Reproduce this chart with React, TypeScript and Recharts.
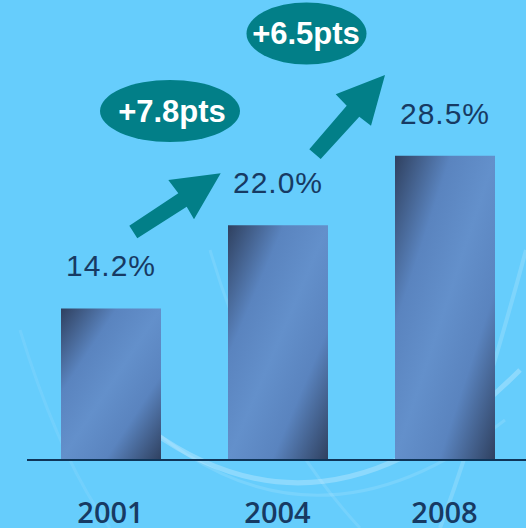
import React from 'react';
import { BarChart, Bar, XAxis, YAxis, LabelList } from 'recharts';

const years = ['2001', '2004', '2008'];
const shares = [14.2, 22.0, 28.5];
const gains = ['+7.8pts', '+6.5pts'];

const data = years.map((y, i) => ({ year: y, share: shares[i] }));

const TEAL = '#027f88';
const NAVY = '#173a63';

export default function App() {
  return (
    <div
      style={{
        position: 'absolute',
        left: 0,
        top: 0,
        width: 526,
        height: 528,
        overflow: 'hidden',
        background: '#66cdfc',
      }}
    >
      <svg width={526} height={528} style={{ position: 'absolute', left: 0, top: 0 }}>
        <path d="M 150 430 Q 330 560 520 370" fill="none" stroke="#ffffff" strokeOpacity={0.25} strokeWidth={5} />
        <path d="M 120 400 Q 300 580 505 420" fill="none" stroke="#ffffff" strokeOpacity={0.12} strokeWidth={3} />
        <path d="M 210 250 Q 260 420 360 528" fill="none" stroke="#ffffff" strokeOpacity={0.1} strokeWidth={3} />
        <path d="M 20 330 Q 60 460 110 528" fill="none" stroke="#ffffff" strokeOpacity={0.08} strokeWidth={3} />
        <path d="M 526 250 Q 480 420 440 528" fill="none" stroke="#ffffff" strokeOpacity={0.16} strokeWidth={4} />
      </svg>
      <BarChart
        width={528}
        height={528}
        data={data}
        margin={{ top: 33, right: 0, left: 27, bottom: 0 }}
        style={{ position: 'absolute', left: 0, top: 0 }}
      >
        <defs>
          <linearGradient id="barGrad" x1="0" y1="0" x2="1" y2="1">
            <stop offset="0" stopColor="#2f405f" />
            <stop offset="0.28" stopColor="#5a84bf" />
            <stop offset="0.5" stopColor="#6390cb" />
            <stop offset="0.72" stopColor="#5a84bf" />
            <stop offset="1" stopColor="#2f405f" />
          </linearGradient>
        </defs>
        <XAxis
          dataKey="year"
          height={68}
          tickSize={0}
          tickMargin={42}
          tickLine={false}
          axisLine={{ stroke: '#0f3558', strokeWidth: 2 }}
          tick={{ fill: NAVY, fontSize: 29, fontWeight: 600, fontFamily: 'Open Sans, Liberation Sans, sans-serif' }}
        />
        <YAxis hide domain={[0, 40]} />
        <Bar dataKey="share" barSize={100} fill="url(#barGrad)" isAnimationActive={false}>
          <LabelList
            dataKey="share"
            position="top"
            offset={32}
            formatter={(v: any) => `${Number(v).toFixed(1)}%`}
            style={{ fill: NAVY, fontSize: 30, fontFamily: 'Liberation Sans, Arial, sans-serif', letterSpacing: 1 }}
          />
        </Bar>
      </BarChart>
      <svg width={526} height={528} style={{ position: 'absolute', left: 0, top: 0, pointerEvents: 'none' }}>
        <polygon
          points="129.3,225.7 178.3,193.3 168.3,180 220.7,173.3 194,219.3 186.7,206.7 137.3,238.3"
          fill={TEAL}
        />
        <polygon
          points="309.3,149.3 346.7,105.7 335.7,94.3 385,75 371,125.7 359.3,116.7 320.7,159"
          fill={TEAL}
        />
        <ellipse cx={170} cy={111} rx={70} ry={31} fill={TEAL} />
        <text x={172} y={122} textAnchor="middle" fill="#ffffff" fontSize={31} fontWeight="bold" fontFamily="Liberation Sans, Arial, sans-serif">
          {gains[0]}
        </text>
        <ellipse cx={306.5} cy={33.5} rx={60} ry={31} fill={TEAL} />
        <text x={306} y={44} textAnchor="middle" fill="#ffffff" fontSize={31} fontWeight="bold" fontFamily="Liberation Sans, Arial, sans-serif">
          {gains[1]}
        </text>
      </svg>
    </div>
  );
}
